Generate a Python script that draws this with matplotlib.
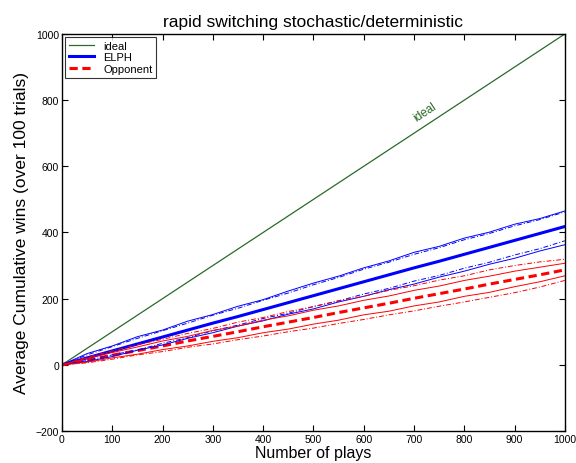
"""Average cumulative wins of ELPH vs opponent, rapid switching stochastic/deterministic."""

import matplotlib

matplotlib.use("Agg")
import matplotlib.pyplot as plt

plt.rcParams["font.family"] = ["Liberation Sans", "DejaVu Sans"]

# number of plays at which the curves were sampled
plays = [0, 50, 100, 150, 200, 250, 300, 350, 400, 450, 500,
         550, 600, 650, 700, 750, 800, 850, 900, 950, 1000]
ideal = plays

elph_mean = [0, 21, 42, 63, 84, 105, 126, 146, 167, 188, 209,
             230, 251, 272, 293, 313, 334, 355, 376, 397, 418]
elph_hi = [0, 34, 57, 85, 105, 132, 152, 177, 197, 223, 247,
           268, 293, 314, 340, 358, 383, 401, 425, 442, 465]
elph_hi2 = [0, 30, 55, 80, 103, 126, 150, 171, 195, 217, 242,
            264, 289, 310, 334, 354, 378, 397, 420, 439, 462]
elph_lo2 = [0, 13, 30, 45, 65, 82, 103, 120, 140, 156, 176,
            193, 214, 231, 253, 270, 292, 310, 332, 351, 375]
elph_lo = [0, 10, 25, 44, 60, 80, 97, 117, 133, 153, 169,
           190, 207, 227, 244, 265, 283, 304, 322, 344, 363]

opp_mean = [0, 14, 29, 43, 57, 72, 86, 100, 115, 129, 143,
            158, 172, 186, 201, 215, 229, 244, 258, 272, 287]
opp_hi2 = [0, 23, 42, 61, 77, 95, 110, 129, 143, 161, 176,
           194, 207, 225, 239, 256, 269, 287, 300, 311, 319]
opp_hi = [0, 20, 37, 54, 72, 86, 104, 117, 135, 148, 165,
          178, 195, 208, 225, 238, 255, 268, 283, 295, 307]
opp_lo = [0, 8, 21, 32, 46, 57, 71, 82, 97, 108, 123,
          135, 151, 162, 178, 190, 207, 219, 236, 251, 269]
opp_lo2 = [0, 6, 17, 30, 40, 53, 63, 76, 87, 100, 111,
           125, 137, 151, 163, 177, 190, 204, 218, 235, 255]

GREEN = "#2a6a2a"
BLUE = "#0000ff"
RED = "#ff0000"

fig = plt.figure(figsize=(5.76, 4.64), dpi=100)
ax = fig.add_axes([0.1076, 0.069, 0.873, 0.8556])

ax.plot(plays, ideal, color=GREEN, lw=0.9, label="ideal")
ax.plot(plays, elph_mean, color=BLUE, lw=2.2, label="ELPH")
ax.plot(plays, opp_mean, color=RED, lw=2.2, ls=(0, (2.7, 1.5)), label="Opponent")

for ys in (elph_hi, elph_lo):
    ax.plot(plays, ys, color=BLUE, lw=0.7)
for ys in (elph_hi2, elph_lo2):
    ax.plot(plays, ys, color=BLUE, lw=0.7, ls=(0, (5, 2, 1, 2)))
for ys in (opp_hi, opp_lo):
    ax.plot(plays, ys, color=RED, lw=0.7)
for ys in (opp_hi2, opp_lo2):
    ax.plot(plays, ys, color=RED, lw=0.7, ls=(0, (5, 2, 1, 2)))

ax.text(722, 764, "ideal", color=GREEN, fontsize=8.5, rotation=33.3,
        ha="center", va="center")

ax.set_xlim(0, 1000)
ax.set_ylim(-200, 1000)
ax.set_xticks(range(0, 1001, 100))
ax.set_yticks(range(-200, 1001, 200))
ax.tick_params(direction="in", top=True, right=True, length=4, width=0.8,
               labelsize=7.5, pad=2)
for sp in ax.spines.values():
    sp.set_linewidth(1.0)

ax.set_xlabel("Number of plays", fontsize=11.5, labelpad=1)
ax.set_ylabel("Average Cumulative wins (over 100 trials)", fontsize=12.5, labelpad=5)
ax.set_title("rapid switching stochastic/deterministic", fontsize=12.5, pad=6)

leg = ax.legend(loc="upper left", fontsize=8, frameon=True, fancybox=False,
                borderaxespad=0.25, handlelength=2.3, borderpad=0.35,
                labelspacing=0.15, handletextpad=0.8)
leg.get_frame().set_edgecolor("black")
leg.get_frame().set_linewidth(0.8)

fig.savefig("out.png", dpi=100)
